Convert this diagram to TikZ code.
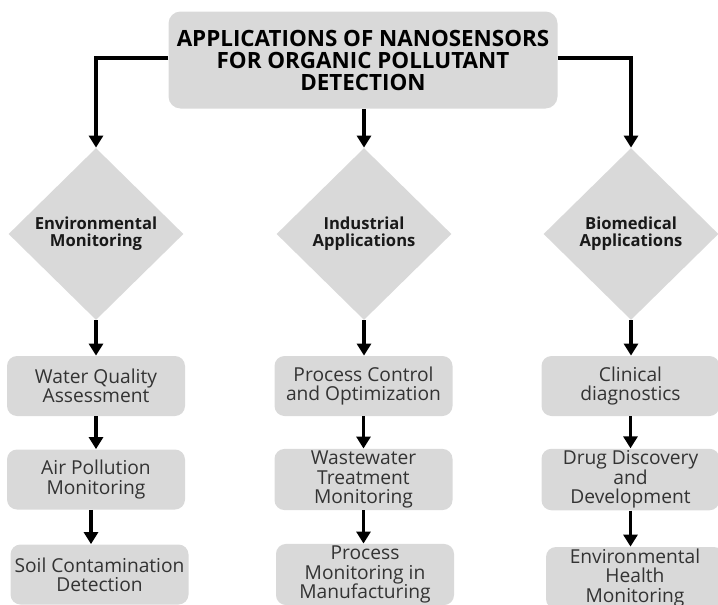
\documentclass[tikz,border=0pt]{standalone}
\usepackage{fontspec}
\setmainfont{Open Sans}
\usetikzlibrary{shapes.geometric,arrows.meta}

\definecolor{boxgray}{HTML}{D9D9D9}
\definecolor{textgray}{HTML}{333333}

\tikzset{
  topbox/.style={fill=boxgray, rounded corners=6pt, minimum width=194.5pt,
    minimum height=48.5pt, inner sep=1pt, align=center,
    font=\bfseries\fontsize{11.2}{11}\selectfont},
  catnode/.style={diamond, fill=boxgray, minimum width=87.5pt,
    minimum height=86pt, inner sep=0pt, align=center, text=black!90,
    font=\bfseries\fontsize{8.3}{8.6}\selectfont},
  itembox/.style={fill=boxgray, rounded corners=5pt, minimum width=89pt,
    minimum height=30pt, inner sep=1pt, align=center, text=textgray,
    font=\fontsize{9.6}{9.7}\selectfont},
  link/.style={line width=1.8pt, -{Triangle[width=7pt,length=6pt]}}
}

\begin{document}
\begin{tikzpicture}[x=0.5pt,y=-0.5pt]
      \useasboundingbox (0,0) rectangle (718,605);
      \clip (0,0) rectangle (718,605);
      \node[topbox] (top) at (363,60)
        {APPLICATIONS OF NANOSENSORS\\FOR ORGANIC POLLUTANT\\DETECTION};
      % categories
      \node[catnode] (env) at (96,234) {Environmental\\Monitoring};
      \node[catnode] (ind) at (364,234) {Industrial\\Applications};
      \node[catnode] (bio) at (631,234) {Biomedical\\Applications};
      % environmental
      \node[itembox] (env1) at (96,386) {Water Quality\\Assessment};
      \node[itembox] (env2) at (96,479.5) {Air Pollution\\Monitoring};
      \node[itembox] (env3) at (99.5,574.5) {Soil Contamination\\Detection};
      % industrial
      \node[itembox] (ind1) at (363.5,386) {Process Control\\and Optimization};
      \node[itembox] (ind2) at (363.5,479.5) {Wastewater\\Treatment\\Monitoring};
      \node[itembox] (ind3) at (365,574.5) {Process\\Monitoring in\\Manufacturing};
      % biomedical
      \node[itembox] (bio1) at (630.5,386) {Clinical\\diagnostics};
      \node[itembox] (bio2) at (630.5,479.5) {Drug Discovery\\and\\Development};
      \node[itembox] (bio3) at (635,578) {Environmental\\Health\\Monitoring};
      \begin{scope}[link]
        \draw ([yshift=1pt]top.west) -| (env.north);
        \draw (top.south -| ind.north) -- (ind.north);
        \draw ([yshift=1pt]top.east) -| (bio.north);
        \draw (env.south) -- (env.south |- env1.north);
        \draw (ind.south) -- (ind.south |- ind1.north);
        \draw (bio.south) -- (bio.south |- bio1.north);
        \draw (env1.south) -- (env1.south |- env2.north);
        \draw (ind1.south) -- (ind1.south |- ind2.north);
        \draw (bio1.south) -- (bio1.south |- bio2.north);
        \draw ([xshift=-2.5pt]env2.south) -- ([xshift=-2.5pt]env2.south |- env3.north);
        \draw (ind2.south) -- (ind2.south |- ind3.north);
        \draw (bio2.south) -- (bio2.south |- bio3.north);
      \end{scope}
    \end{tikzpicture}
\end{document}
